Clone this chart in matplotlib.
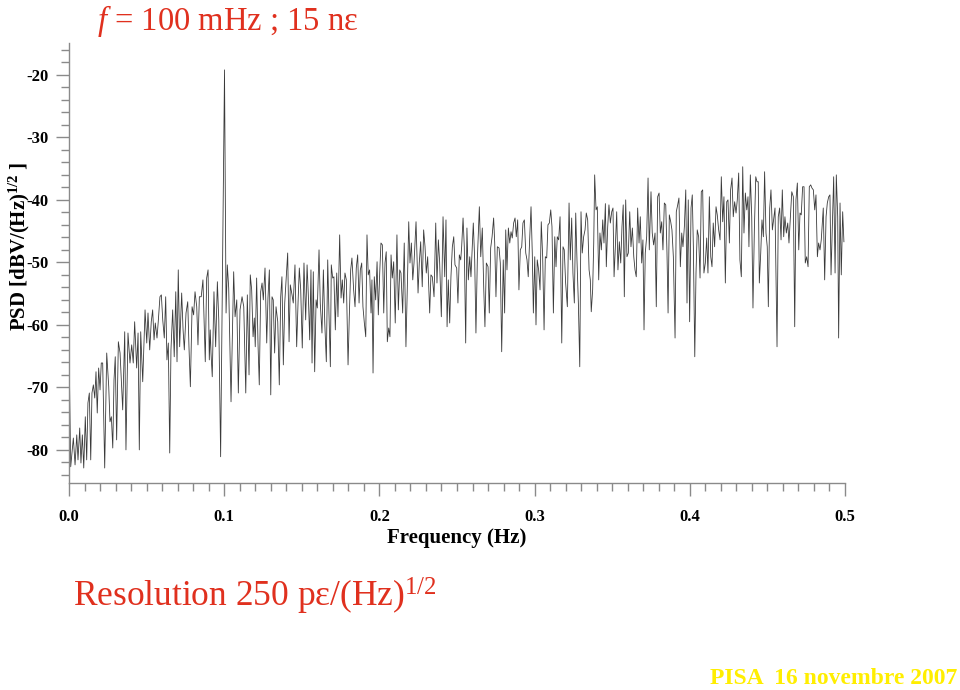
import numpy as np
import matplotlib
matplotlib.use("Agg")
import matplotlib.pyplot as plt
from matplotlib.ticker import MultipleLocator, FormatStrFormatter

plt.rcParams['font.family'] = ['Liberation Serif', 'DejaVu Serif']
plt.rcParams['axes.unicode_minus'] = False
plt.rcParams['mathtext.fontset'] = 'custom'
plt.rcParams['mathtext.rm'] = 'Liberation Serif'
plt.rcParams['mathtext.it'] = 'Liberation Serif:italic'
plt.rcParams['mathtext.bf'] = 'Liberation Serif:bold'

# spectre (Hz / dB)
freq_hz = [
    0.0000, 0.0011, 0.0028, 0.0039, 0.0050, 0.0058, 0.0069, 0.0077, 0.0086, 0.0095,
    0.0105, 0.0114, 0.0122, 0.0131, 0.0140, 0.0148, 0.0157, 0.0166, 0.0174, 0.0182,
    0.0191, 0.0200, 0.0208, 0.0217, 0.0230, 0.0243, 0.0256, 0.0264, 0.0273, 0.0282,
    0.0290, 0.0298, 0.0307, 0.0318, 0.0329, 0.0346, 0.0359, 0.0367, 0.0380, 0.0393,
    0.0404, 0.0414, 0.0423, 0.0436, 0.0445, 0.0453, 0.0462, 0.0475, 0.0490, 0.0501,
    0.0509, 0.0520, 0.0530, 0.0539, 0.0548, 0.0556, 0.0567, 0.0575, 0.0586, 0.0595,
    0.0604, 0.0614, 0.0623, 0.0631, 0.0640, 0.0649, 0.0657, 0.0668, 0.0678, 0.0688,
    0.0696, 0.0704, 0.0713, 0.0726, 0.0735, 0.0743, 0.0754, 0.0765, 0.0773, 0.0782,
    0.0793, 0.0803, 0.0812, 0.0823, 0.0831, 0.0840, 0.0852, 0.0863,
    0.0878, 0.0887, 0.0896, 0.0904, 0.0910, 0.0915, 0.0923, 0.0934, 0.0945, 0.0956,
    0.0965, 0.0977, 0.1002, 0.1012, 0.1020, 0.1029, 0.1044, 0.1052, 0.1061, 0.1070,
    0.1081, 0.1091, 0.1102, 0.1115, 0.1126, 0.1139, 0.1149, 0.1160, 0.1168, 0.1177,
    0.1186, 0.1194, 0.1200, 0.1209, 0.1218, 0.1226, 0.1235, 0.1244, 0.1252, 0.1263,
    0.1274, 0.1282, 0.1291, 0.1300, 0.1308, 0.1316, 0.1325, 0.1334, 0.1345, 0.1355,
    0.1364, 0.1372, 0.1381, 0.1390, 0.1398, 0.1409, 0.1418, 0.1426, 0.1437, 0.1445,
    0.1456, 0.1467, 0.1476, 0.1484, 0.1493, 0.1503, 0.1514, 0.1525, 0.1534, 0.1542,
    0.1551, 0.1559, 0.1566, 0.1574, 0.1583, 0.1592, 0.1600, 0.1611, 0.1619, 0.1630,
    0.1639, 0.1648, 0.1658, 0.1667, 0.1675, 0.1684, 0.1690, 0.1699, 0.1707, 0.1716,
    0.1725, 0.1733, 0.1744, 0.1753, 0.1761, 0.1770, 0.1778, 0.1787, 0.1798, 0.1806,
    0.1815, 0.1823, 0.1834, 0.1843, 0.1851, 0.1860, 0.1869, 0.1877, 0.1886, 0.1894,
    0.1903, 0.1912, 0.1920, 0.1928, 0.1937, 0.1946, 0.1952, 0.1959, 0.1967, 0.1976,
    0.1985, 0.1993, 0.2002, 0.2010, 0.2019, 0.2028, 0.2036, 0.2044, 0.2051, 0.2060,
    0.2068, 0.2075, 0.2083, 0.2092, 0.2102, 0.2113, 0.2122, 0.2131, 0.2139, 0.2150,
    0.2160, 0.2171, 0.2180, 0.2189, 0.2197, 0.2206, 0.2215, 0.2223, 0.2236, 0.2249,
    0.2257, 0.2266, 0.2276, 0.2285, 0.2294, 0.2302, 0.2311, 0.2324, 0.2332, 0.2341,
    0.2352, 0.2363, 0.2371, 0.2380, 0.2388, 0.2399, 0.2410, 0.2421, 0.2429, 0.2436,
    0.2444, 0.2453, 0.2461, 0.2470, 0.2479, 0.2487, 0.2498, 0.2506, 0.2515, 0.2524,
    0.2530, 0.2539, 0.2547, 0.2556, 0.2564, 0.2573, 0.2582, 0.2590,
    0.2605, 0.2614, 0.2622, 0.2631, 0.2644, 0.2653, 0.2663, 0.2672, 0.2680, 0.2689,
    0.2700, 0.2708, 0.2717, 0.2726, 0.2736, 0.2743, 0.2751, 0.2760, 0.2771, 0.2779,
    0.2788, 0.2798, 0.2807, 0.2814, 0.2822, 0.2831, 0.2840, 0.2848, 0.2856, 0.2865,
    0.2874, 0.2882, 0.2891, 0.2899, 0.2908, 0.2917, 0.2925, 0.2934, 0.2943, 0.2951,
    0.2959, 0.2968, 0.2977, 0.2985, 0.2992, 0.3001, 0.3009, 0.3017, 0.3026, 0.3035,
    0.3043, 0.3052, 0.3061, 0.3069, 0.3078, 0.3086, 0.3095, 0.3104, 0.3112, 0.3121,
    0.3130, 0.3138, 0.3146, 0.3155, 0.3164, 0.3175, 0.3183, 0.3191, 0.3200, 0.3211,
    0.3222, 0.3230, 0.3239, 0.3247, 0.3256, 0.3265, 0.3273, 0.3282, 0.3291, 0.3299,
    0.3307, 0.3316, 0.3325, 0.3333, 0.3342, 0.3351, 0.3359, 0.3365, 0.3374, 0.3381,
    0.3387, 0.3396, 0.3404, 0.3413, 0.3421, 0.3430, 0.3439, 0.3447,
    0.3456, 0.3462, 0.3471, 0.3479, 0.3488, 0.3497, 0.3505, 0.3512, 0.3520, 0.3529,
    0.3537, 0.3546, 0.3555, 0.3563, 0.3571, 0.3578, 0.3587, 0.3595, 0.3604, 0.3613,
    0.3621, 0.3630, 0.3639, 0.3647, 0.3655, 0.3664, 0.3673, 0.3681, 0.3690, 0.3698,
    0.3705, 0.3713, 0.3722, 0.3731, 0.3739, 0.3750, 0.3758, 0.3767, 0.3776, 0.3784,
    0.3793, 0.3802, 0.3810, 0.3819, 0.3827, 0.3836, 0.3845, 0.3853, 0.3860, 0.3868,
    0.3877, 0.3885, 0.3894, 0.3905, 0.3913, 0.3922, 0.3930, 0.3939, 0.3948, 0.3956,
    0.3965, 0.3974, 0.3982, 0.3990, 0.3999, 0.4008, 0.4016, 0.4023, 0.4032, 0.4040,
    0.4048, 0.4057, 0.4066, 0.4074, 0.4083, 0.4091, 0.4100, 0.4109, 0.4117, 0.4126,
    0.4135, 0.4143, 0.4151, 0.4160, 0.4169, 0.4177, 0.4186, 0.4195, 0.4203, 0.4212,
    0.4220, 0.4229, 0.4238, 0.4246, 0.4255, 0.4263, 0.4272, 0.4280, 0.4289, 0.4298,
    0.4306, 0.4315,
    0.4323, 0.4332, 0.4341, 0.4349, 0.4358, 0.4367, 0.4375, 0.4381, 0.4390, 0.4399,
    0.4407, 0.4416, 0.4425, 0.4433, 0.4441, 0.4448, 0.4457, 0.4465, 0.4474, 0.4482,
    0.4491, 0.4499, 0.4506, 0.4515, 0.4523, 0.4532, 0.4540, 0.4549, 0.4562, 0.4570,
    0.4579, 0.4588, 0.4596, 0.4605, 0.4613, 0.4622, 0.4631, 0.4639, 0.4648, 0.4657,
    0.4667, 0.4676, 0.4684, 0.4693, 0.4702, 0.4710, 0.4718, 0.4727, 0.4736, 0.4744,
    0.4753, 0.4762, 0.4770, 0.4779, 0.4787, 0.4796, 0.4805, 0.4813, 0.4822, 0.4830,
    0.4839, 0.4847, 0.4860, 0.4869, 0.4878, 0.4886, 0.4895, 0.4903, 0.4910, 0.4918,
    0.4927, 0.4936, 0.4944, 0.4953, 0.4959, 0.4968, 0.4976, 0.4985, 0.4993,
]

psd_db = [
    -63.2, -82.7, -78.1, -82.4, -77.6, -81.6, -76.5, -82.1, -77.6, -82.9,
    -74.7, -81.6, -72.5, -70.9, -81.6, -70.9, -69.6, -71.7, -67.5, -74.1,
    -66.9, -70.4, -66.1, -66.1, -82.9, -64.5, -69.9, -75.5, -74.7, -79.7,
    -68.8, -65.1, -78.4, -62.7, -64.5, -73.6, -61.1, -80.0, -61.3, -66.1,
    -63.2, -66.1, -59.5, -66.9, -61.3, -80.0, -61.1, -69.1, -57.6, -62.9,
    -58.1, -64.0, -59.5, -57.6, -62.4, -59.7, -62.1, -59.5, -55.5, -55.2,
    -59.2, -62.1, -55.5, -65.6, -62.9, -80.5, -64.0, -57.6, -65.1, -54.7,
    -65.9, -51.2, -63.5, -54.9, -60.8, -64.0, -58.1, -56.3, -63.5, -69.9,
    -57.1, -58.4, -54.7, -57.1, -63.2, -55.5, -55.5, -52.8,
    -65.9, -52.5, -51.2, -65.6, -60.8, -64.5, -68.3, -54.7, -63.5, -53.1,
    -59.2, -81.1, -19.2, -58.1, -50.4, -54.1, -72.3, -62.4, -51.5, -58.7,
    -56.0, -70.9, -57.6, -55.5, -57.1, -70.9, -55.2, -68.0, -52.0, -54.4,
    -61.9, -58.9, -63.5, -52.5, -63.2, -69.6, -54.7, -53.3, -56.0, -50.9,
    -62.9, -55.7, -51.2, -71.2, -55.5, -56.0, -64.5, -57.1, -59.5, -69.6,
    -55.5, -52.3, -66.4, -56.5, -53.1, -48.5, -62.7, -53.6, -55.2, -56.5,
    -50.4, -63.5, -56.3, -50.9, -54.4, -63.7, -50.1, -59.2, -50.4, -55.2,
    -62.4, -51.2, -66.1, -51.5, -67.5, -56.0, -57.3, -48.0, -56.5, -61.3,
    -51.2, -59.7, -65.9, -49.6, -58.1, -66.7, -50.4, -52.5, -52.3, -60.8,
    -51.7, -58.7, -45.6, -55.7, -52.8, -56.5, -51.7, -52.8, -66.4, -58.7,
    -51.2, -49.3, -54.4, -57.1, -50.9, -48.8, -56.5, -51.2, -50.1, -57.1,
    -59.7, -61.9, -45.6, -52.0, -51.2, -58.1, -52.8, -67.7, -52.3, -56.0,
    -49.9, -58.4, -51.7, -46.9, -47.2, -58.1, -50.1, -48.3, -62.7, -60.5,
    -61.9, -48.8, -52.5, -49.9, -59.7, -45.6, -57.6, -51.2, -51.7, -58.1,
    -46.9, -63.5, -53.9, -43.5, -50.1, -46.9, -52.8, -50.1, -43.5, -54.9,
    -50.1, -46.7, -53.9, -44.8, -47.5, -51.7, -49.1, -58.1, -52.0, -52.3,
    -55.5, -43.7, -53.3, -46.4, -49.9, -58.7, -42.7, -52.3, -43.2, -60.3,
    -52.8, -59.7, -52.3, -47.5, -45.9, -50.4, -50.9, -56.5, -48.8, -49.6,
    -47.5, -42.9, -47.5, -62.9, -44.5, -52.8, -49.1, -52.3,
    -43.7, -49.6, -61.3, -49.6, -41.1, -49.1, -44.5, -53.9, -60.3, -50.1,
    -50.7, -58.1, -47.7, -45.9, -42.9, -46.9, -55.5, -47.5, -47.7, -50.1,
    -64.3, -49.6, -58.1, -44.8, -51.2, -44.5, -46.9, -45.1, -46.1, -43.7,
    -42.9, -45.9, -43.2, -54.4, -48.0, -47.5, -43.7, -43.2, -48.5, -49.6,
    -52.3, -46.4, -41.1, -48.5, -58.1, -49.1, -60.0, -49.6, -51.2, -54.4,
    -43.5, -49.1, -60.8, -49.1, -49.3, -44.0, -43.7, -41.6, -44.3, -58.1,
    -45.9, -50.7, -45.9, -46.4, -42.7, -62.9, -47.5, -48.0, -53.3, -57.1,
    -40.5, -49.6, -42.9, -51.7, -56.5, -42.1, -49.6, -56.5, -66.7, -41.9,
    -48.5, -45.9, -44.8, -42.1, -43.2, -51.2, -52.8, -57.9, -54.4, -46.9,
    -36.0, -41.6, -41.1, -52.8, -45.3, -48.0, -43.2, -46.9,
    -40.6, -50.7, -44.3, -40.8, -43.7, -41.9, -41.3, -52.3, -47.7, -41.9,
    -51.2, -46.7, -50.1, -44.3, -40.8, -55.5, -40.0, -49.1, -48.5, -41.9,
    -47.5, -44.5, -49.1, -51.2, -52.3, -41.3, -46.9, -42.7, -50.1, -46.4,
    -60.8, -48.5, -45.9, -36.5, -48.0, -38.7, -45.3, -47.2, -45.3, -57.1,
    -39.5, -38.9, -45.3, -43.5, -48.0, -40.5, -40.8, -48.5, -58.1, -42.4,
    -43.5, -44.8, -49.1, -62.1, -41.9, -40.8, -39.7, -50.7, -45.3, -47.5,
    -44.3, -38.4, -56.5, -40.0, -59.5, -41.3, -39.2, -47.5, -65.1, -51.7,
    -44.8, -45.9, -52.5, -38.7, -38.4, -51.7, -50.1, -46.1, -51.7, -39.5,
    -49.1, -50.7, -43.7, -47.5, -41.1, -42.4, -44.8, -46.4, -36.3, -43.5,
    -39.5, -53.3, -40.3, -40.0, -46.9, -38.4, -36.5, -42.7, -40.3, -42.1,
    -40.0, -35.7,
    -49.6, -52.3, -34.7, -45.3, -38.9, -41.6, -39.5, -47.5, -36.0, -42.7,
    -57.3, -44.8, -36.3, -37.1, -37.1, -53.3, -48.5, -43.2, -45.9, -35.5,
    -45.3, -47.5, -57.1, -41.3, -38.4, -44.8, -43.2, -41.3, -63.5, -42.7,
    -41.3, -46.4, -38.4, -45.9, -42.7, -45.3, -43.7, -46.9, -42.7, -38.7,
    -39.5, -60.3, -40.0, -37.3, -48.0, -42.1, -42.4, -37.9, -37.9, -50.1,
    -49.1, -50.7, -37.9, -37.6, -38.1, -38.4, -41.6, -39.2, -49.1, -46.9,
    -48.0, -46.4, -41.3, -52.8, -42.7, -40.5, -39.5, -39.2, -52.0, -44.3,
    -36.3, -51.7, -36.0, -42.7, -62.1, -40.5, -52.0, -41.9, -46.7,
]

x_major = [0.0, 0.1, 0.2, 0.3, 0.4, 0.5]
y_major = [-80, -70, -60, -50, -40, -30, -20]

red = '#e0301e'

fig = plt.figure(figsize=(9.6, 6.9), dpi=100)
ax = fig.add_axes([69/960, 1 - 483/690, 776/960, 440/690])

ax.plot(freq_hz, psd_db, color='#3a3a3a', lw=0.6)

ax.set_xlim(0, 0.5)
ax.set_ylim(-85.3, -14.9)
ax.set_xticks(x_major)
ax.set_yticks(y_major)
ax.xaxis.set_minor_locator(MultipleLocator(0.01))
ax.yaxis.set_minor_locator(MultipleLocator(2))
ax.xaxis.set_major_formatter(FormatStrFormatter('%.1f'))

for s in ['top', 'right']:
    ax.spines[s].set_visible(False)
for s in ['left', 'bottom']:
    ax.spines[s].set_color('#8a8a8a')
    ax.spines[s].set_linewidth(1.0)

ax.tick_params(which='major', direction='out', length=9.5, width=1, color='#8a8a8a', labelsize=12, pad=5)
ax.tick_params(which='minor', direction='out', length=5.5, width=1, color='#8a8a8a')
ax.tick_params(axis='x', which='major', pad=9)
for lab in ax.get_xticklabels() + ax.get_yticklabels():
    lab.set_fontweight('bold')

fig.text(457/960, 1 - 538/690, 'Frequency (Hz)', ha='center', va='center',
         fontsize=15, fontweight='bold')
fig.text(19/960, 1 - 246/690, r'PSD [dBV/(Hz)$^{\mathbf{1/2}}$ ]', rotation=90,
         ha='center', va='center', fontsize=15, fontweight='bold')

fig.text(97/960, 1 - 30/690, r'$\mathit{f}$ = 100 mHz ; 15 nε', ha='left', va='baseline',
         fontsize=23.5, color=red)
fig.text(73/960, 1 - 607/690, r'Resolution 250 pε/(Hz)$^{1/2}$', ha='left', va='baseline',
         fontsize=25.5, color=red)
fig.text(957/960, 1 - 684/690, 'PISA  16 novembre 2007', ha='right', va='baseline',
         fontsize=17, fontweight='bold', color='#ffee00')

fig.savefig('out.png', dpi=100)
